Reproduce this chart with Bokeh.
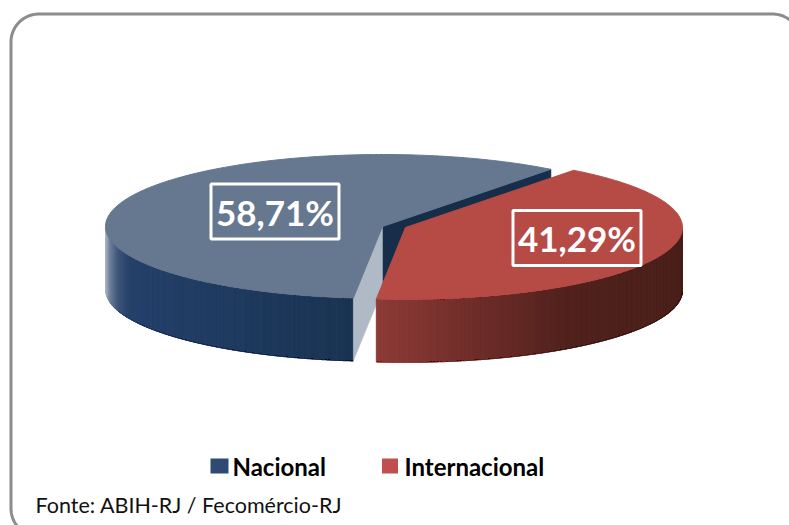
import numpy as np
from bokeh.plotting import figure
from bokeh.embed import file_html
from bokeh.resources import INLINE
from bokeh.core.properties import value

categories = ["Nacional", "Internacional"]
shares = [58.71, 41.29]
source_note = "Fonte: ABIH-RJ / Fecomércio-RJ"

TOP = ["#65788f", "#b64b46"]
SWATCH = ["#2c4a72", "#c0504d"]
CENTRES = [(382, 226), (405, 227)]
A, B, DEPTH = 277, 72, 63
START_DEG = 52.6

W, H = 789, 525
p = figure(width=W, height=H, x_range=(0, W), y_range=(H, 0),
           output_backend="svg", toolbar_location=None, min_border=0,
           x_axis_location=None, y_axis_location=None, outline_line_color=None)
p.grid.visible = False
p.background_fill_color = "white"
p.border_fill_color = "white"


def hexmix(stops, x):
    xs = [s[0] for s in stops]
    out = [np.interp(x, xs, [int(s[1][i:i + 2], 16) for s in stops]) for i in (1, 3, 5)]
    return "#%02x%02x%02x" % tuple(int(round(v)) for v in out)


def sector(c, t0, t1):
    t = np.radians(np.linspace(t0, t1, 200))
    return c[0] + A * np.cos(t), c[1] - B * np.sin(t)


def wall(p1, p2):
    return [p1[0], p2[0], p2[0], p1[0]], [p1[1], p2[1], p2[1] + DEPTH, p1[1] + DEPTH]


def side(c, t0, t1, stops):
    edges = np.linspace(t0, t1, 141)
    xs, ys, cols = [], [], []
    for a, b in zip(edges[:-1], edges[1:]):
        ex, ey = sector(c, a, b)
        xs.append(list(ex) + list(ex[::-1]))
        ys.append(list(ey) + list(ey[::-1] + DEPTH))
        cols.append(hexmix(stops, (ex[0] + ex[-1]) / 2))
    p.patches(xs, ys, fill_color=cols, line_color=cols, line_width=1)


span0 = shares[0] * 3.6
t_back = START_DEG
t_front = START_DEG + span0

c0 = CENTRES[0]
bx, by = sector(c0, t_back, t_front)
side(c0, 180, t_front, [(105, "#b4bcc8"), (110, "#6f8099"), (118, "#3c5578"),
                        (130, "#24406a"), (220, "#1f3b60"), (353, "#1a3352")])
wx, wy = wall((c0[0], c0[1]), (bx[0], by[0]))
p.patch(wx, wy, fill_color="#172e4a", line_color="#172e4a", line_width=1)
wx, wy = wall((c0[0], c0[1]), (bx[-1], by[-1]))
p.patch(wx, wy, fill_color="#afbac6", line_color="#afbac6", line_width=0.5)
p.patch([c0[0]] + list(bx), [c0[1]] + list(by), fill_color=TOP[0], line_color=TOP[0], line_width=1)

c1 = CENTRES[1]
rx, ry = sector(c1, t_back, t_front - 360)
side(c1, t_front - 360, 0, [(376, "#8c3b36"), (480, "#6d2c28"), (570, "#50211c"), (682, "#4a1f1a")])
p.patch([c1[0]] + list(rx), [c1[1]] + list(ry), fill_color=TOP[1], line_color=TOP[1], line_width=1)

labels = [("%.2f%%" % v).replace(".", ",") for v in shares]
for s, (cx, cy) in zip(labels, [(274.5, 211), (576.5, 237.5)]):
    p.rect([cx], [cy], width=128, height=55, fill_color=None, line_color="white", line_width=3)
    p.text([cx], [cy], text=[s], text_color="white", text_font=value("Lato"), text_font_style="bold",
           text_font_size="35px", text_align="center", text_baseline="middle")

for name, col, sx, sw, tx in zip(categories, SWATCH, [219, 389.5], [18, 16], [232, 404]):
    p.rect([sx], [465.5], width=sw, height=15, fill_color=col, line_color=None)
    p.text([tx], [465.5], text=[name], text_color="black", text_font=value("Lato"), text_font_style="bold",
           text_font_size="24px", text_align="left", text_baseline="middle")

p.text([35], [504.5], text=[source_note], text_color="#111111", text_font=value("Lato"),
       text_font_size="21.5px", text_align="left", text_baseline="middle")

L, T, R, Bm = 10.5, 13.5, 800, 536
ra = 28
ang = np.radians(np.linspace(0, 90, 30))
cx = list(L + ra - ra * np.cos(ang)) + list(R - ra + ra * np.sin(ang))
cy = list(T + ra - ra * np.sin(ang)) + list(T + ra - ra * np.cos(ang))
bx2 = list(L + ra - ra * np.cos(ang[::-1]))
by2 = list(Bm - ra + ra * np.sin(ang[::-1]))
p.line(bx2 + cx, by2 + cy, line_color="#8c8c8c", line_width=3)

open("out.html", "w").write(file_html(p, INLINE))
